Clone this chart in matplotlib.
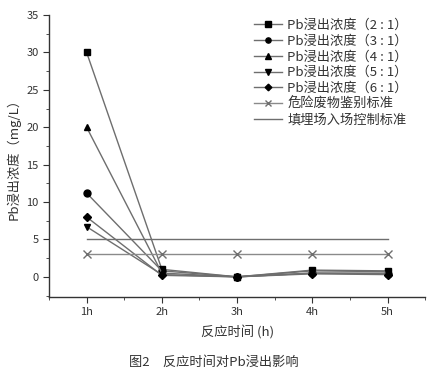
import matplotlib
matplotlib.use("Agg")
import matplotlib.pyplot as plt
from matplotlib.ticker import MultipleLocator

plt.rcParams['font.family'] = ['Noto Sans CJK SC', 'DejaVu Sans']

# data
hours = [1, 2, 3, 4, 5]
hour_labels = ["1h", "2h", "3h", "4h", "5h"]
pb_2_1 = [30.0, 1.0, 0.0, 0.9, 0.8]
pb_3_1 = [11.2, 0.8, 0.0, 0.5, 0.4]
pb_4_1 = [20.0, 0.5, 0.0, 0.8, 0.7]
pb_5_1 = [6.7, 0.3, 0.0, 0.5, 0.5]
pb_6_1 = [8.0, 0.2, 0.0, 0.4, 0.3]
hazard_std = [3, 3, 3, 3, 3]
landfill_std = [5, 5, 5, 5, 5]

series = [
    ("Pb浸出浓度（2 : 1）", pb_2_1, "s"),
    ("Pb浸出浓度（3 : 1）", pb_3_1, "o"),
    ("Pb浸出浓度（4 : 1）", pb_4_1, "^"),
    ("Pb浸出浓度（5 : 1）", pb_5_1, "v"),
    ("Pb浸出浓度（6 : 1）", pb_6_1, "D"),
]

fig = plt.figure(figsize=(4.28, 3.76), dpi=100)
ax = fig.add_axes([0.1145, 0.21, 0.879, 0.75])

line_col = "#6e6e6e"
for label, vals, mk in series:
    ax.plot(hours, vals, color=line_col, lw=1.0, marker=mk,
            ms=5 if mk != "D" else 4.5, mfc="black", mec="black", label=label)
ax.plot(hours, hazard_std, color="#8a8a8a", lw=1.0, marker="x", ms=6,
        mec="#6e6e6e", label="危险废物鉴别标准")
ax.plot(hours, landfill_std, color="#6e6e6e", lw=1.0, label="填埋场入场控制标准")

ax.set_xlim(0.5, 5.5)
ax.set_ylim(-2.7, 35)
ax.set_xticks(hours)
ax.set_xticklabels(hour_labels)
ax.xaxis.set_minor_locator(MultipleLocator(0.5))
ax.set_yticks(range(0, 36, 5))
ax.yaxis.set_minor_locator(MultipleLocator(2.5))

for s in ["top", "right"]:
    ax.spines[s].set_visible(False)
for s in ["left", "bottom"]:
    ax.spines[s].set_color("#333333")
    ax.spines[s].set_linewidth(1.0)
ax.tick_params(which="major", length=4, color="#333333", labelsize=8,
               labelcolor="#333333")
ax.tick_params(which="minor", length=2, color="#333333")

ax.set_ylabel("Pb浸出浓度（mg/L）", fontsize=9.5, color="#333333", labelpad=4)
ax.set_xlabel("反应时间 (h)", fontsize=9.5, color="#333333", labelpad=6)

leg = ax.legend(loc="upper right", bbox_to_anchor=(0.985, 1.03), frameon=False,
                fontsize=9.5, handlelength=2.1, handletextpad=0.4,
                labelspacing=0.22, markerscale=0.75, labelcolor="#333333")

fig.text(0.5, 0.035, "图2　反应时间对Pb浸出影响", ha="center", va="center",
         fontsize=9.5, color="#333333")

fig.savefig("out.png", dpi=100)
